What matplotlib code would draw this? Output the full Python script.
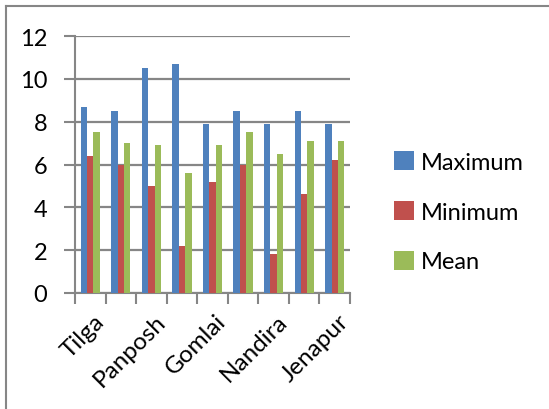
import numpy as np
import matplotlib.pyplot as plt

# --- Data ---
categories = ['Tilga', '', 'Panposh', '', 'Gomlai', '', 'Nandira', '', 'Jenapur']
maximum = [8.7, 8.5, 10.5, 10.7, 7.9, 8.5, 7.9, 8.5, 7.9]
minimum = [6.4, 6.0, 5.0, 2.2, 5.2, 6.0, 1.8, 4.6, 6.2]
mean = [7.5, 7.0, 6.9, 5.6, 6.9, 7.5, 6.5, 7.1, 7.1]
series_names = ['Maximum', 'Minimum', 'Mean']
colors = ['#4F81BD', '#C0504D', '#9BBB59']
y_ticks = [0, 2, 4, 6, 8, 10, 12]

plt.rcParams['font.family'] = ['Lato', 'DejaVu Sans']

fig = plt.figure(figsize=(5.49, 4.10), dpi=100)
ax = fig.add_axes([75 / 549, 1 - 294 / 410, 275 / 549, 257 / 410])

x = np.arange(len(categories))
w = 0.21
for i, (vals, name, c) in enumerate(zip([maximum, minimum, mean], series_names, colors)):
    ax.bar(x + (i - 1) * w, vals, width=w, color=c, label=name, zorder=3)

ax.set_xlim(-0.5, len(categories) - 0.5)
ax.set_ylim(0, 12)
ax.set_yticks(y_ticks)
ax.set_yticklabels([str(v) for v in y_ticks], fontsize=17)
ax.yaxis.grid(True, color='#868686', linewidth=1.6, zorder=0)

# category boundary ticks on x axis
ax.set_xticks(np.arange(len(categories) + 1) - 0.5)
ax.set_xticklabels([])
ax.tick_params(axis='x', length=8, color='#868686', width=1.5)
ax.tick_params(axis='y', length=8, color='#868686', width=1.5, pad=12)
for i, lab in enumerate(categories):
    if lab:
        ax.text(i + 0.1, -0.8, lab, rotation=45, ha='right', va='top',
                rotation_mode='anchor', fontsize=17.5)

for s in ['top', 'right']:
    ax.spines[s].set_visible(False)
for s in ['left', 'bottom']:
    ax.spines[s].set_color('#868686')
    ax.spines[s].set_linewidth(1.5)

ax.legend(loc='upper left', bbox_to_anchor=(394 / 549, 1 - 152 / 410),
          bbox_transform=fig.transFigure, frameon=False, fontsize=17,
          handlelength=0.85, handleheight=0.85, handletextpad=0.3, labelspacing=1.2,
          borderpad=0, borderaxespad=0)

# chart border (top and left only visible)
fig.add_artist(plt.Line2D([6 / 549, 6 / 549], [0, 1 - 7 / 410], color='#868686', linewidth=1.5))
fig.add_artist(plt.Line2D([6 / 549, 1], [1 - 7 / 410, 1 - 7 / 410], color='#868686', linewidth=1.5))

fig.savefig('out.png', dpi=100)
